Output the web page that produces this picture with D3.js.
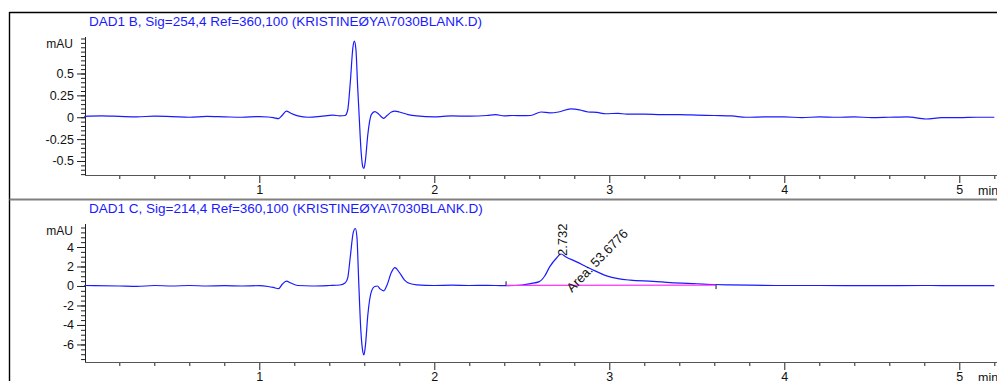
<!DOCTYPE html>
<html><head><meta charset="utf-8">
<script src="https://cdn.jsdelivr.net/npm/d3@7"></script>
<style>
html,body{margin:0;padding:0;background:#fff;overflow:hidden}
svg{display:block;font-family:"Liberation Sans",Arial,sans-serif}
</style></head>
<body>
<svg id="c" width="997" height="381"></svg>
<script>
// ---- data ----
const titleB = "DAD1 B, Sig=254,4 Ref=360,100 (KRISTINEØYA\\7030BLANK.D)";
const titleC = "DAD1 C, Sig=214,4 Ref=360,100 (KRISTINEØYA\\7030BLANK.D)";
const unitLabel = "mAU";
const xUnit = "min";
const xMajorTicks = [1, 2, 3, 4, 5];
const yMajorTicksB = [0.5, 0.25, 0, -0.25, -0.5];
const yMajorTicksC = [4, 2, 0, -2, -4, -6];

const timeB = [0.00,0.10,0.20,0.30,0.40,0.50,0.60,0.70,0.80,0.90,1.00,1.05,1.08,1.11,1.13,1.155,1.18,1.22,1.28,1.35,1.42,1.46,1.49,1.505,1.52,1.535,1.543,1.552,1.562,1.571,1.582,1.592,1.598,1.606,1.62,1.64,1.66,1.68,1.70,1.711,1.73,1.755,1.775,1.80,1.85,1.90,2.00,2.05,2.10,2.20,2.30,2.35,2.40,2.45,2.50,2.55,2.61,2.66,2.71,2.78,2.83,2.88,2.93,2.98,3.05,3.10,3.20,3.30,3.40,3.50,3.60,3.70,3.78,3.90,4.00,4.10,4.20,4.30,4.40,4.50,4.60,4.70,4.81,4.90,5.00,5.10,5.20];
const sigB  = [0.010,0.015,0.010,0.005,0.012,0.008,0.000,0.010,0.005,0.000,0.008,0.003,-0.005,-0.015,0.020,0.070,0.045,0.015,0.000,0.010,0.025,0.015,0.020,0.080,0.400,0.800,0.870,0.780,0.350,0.000,-0.400,-0.570,-0.585,-0.500,-0.200,0.030,0.064,0.040,0.000,-0.012,0.020,0.060,0.070,0.060,0.030,0.015,0.005,0.010,0.015,0.012,0.020,0.030,0.015,0.020,0.018,0.020,0.060,0.050,0.060,0.095,0.085,0.060,0.055,0.040,0.045,0.035,0.035,0.030,0.030,0.025,0.020,0.015,0.000,0.005,0.005,-0.005,0.005,0.000,0.005,-0.005,0.000,0.005,-0.020,-0.005,-0.005,0.000,0.000];

const timeC = [0.00,0.20,0.30,0.40,0.50,0.60,0.70,0.80,0.90,1.00,1.05,1.08,1.11,1.13,1.155,1.18,1.22,1.30,1.40,1.46,1.49,1.505,1.52,1.537,1.549,1.558,1.568,1.58,1.592,1.598,1.607,1.62,1.64,1.66,1.675,1.69,1.711,1.73,1.755,1.775,1.80,1.83,1.86,1.90,2.00,2.10,2.20,2.30,2.40,2.50,2.55,2.60,2.63,2.66,2.70,2.724,2.75,2.81,2.89,2.985,3.05,3.12,3.25,3.35,3.50,3.60,3.67,3.80,4.00,4.20,4.50,4.80,5.00,5.20];
const sigC  = [0.05,0.00,-0.05,0.05,0.00,0.05,0.00,0.03,0.00,0.03,-0.05,-0.15,-0.28,0.15,0.50,0.30,0.05,0.00,0.05,0.10,0.30,0.80,3.00,5.50,5.90,5.00,0.50,-4.50,-6.80,-7.08,-6.00,-3.00,-0.60,-0.05,0.00,-0.30,-0.50,0.10,1.40,1.88,1.40,0.60,0.25,0.12,0.05,0.08,0.05,0.07,0.03,0.10,0.25,0.45,1.00,1.98,2.90,3.28,3.00,2.50,1.80,1.03,0.75,0.60,0.48,0.34,0.23,0.15,0.12,0.08,0.05,0.05,0.03,0.05,0.03,0.03];

const peakTime = 2.724, peakValue = 3.28, peakLabel = "2.732";
const areaLabel = "Area: 53.6776";
const baselineStart = [2.41, 0.07], baselineEnd = [3.61, 0.09];

// ---- drawing ----
const svg = d3.select("#c");
const blue = "#1a1aff";
const x = d3.scaleLinear().domain([0, 5.2]).range([84.3, 994.3]);

// frame
svg.append("line").attr("x1",9.5).attr("x2",997).attr("y1",12.5).attr("y2",12.5).attr("stroke","#000").attr("stroke-width",1.6);
svg.append("line").attr("x1",9.5).attr("x2",9.5).attr("y1",12).attr("y2",381).attr("stroke","#000").attr("stroke-width",1.4);
svg.append("line").attr("x1",9.5).attr("x2",997).attr("y1",199.5).attr("y2",199.5).attr("stroke","#808080").attr("stroke-width",2);

function panel(off, title, yDom, majors, minorStep, times, vals, fmt) {
  const yTop = 37 + off, yBot = 175 + off;
  const y = d3.scaleLinear().domain(yDom).range([yBot, yTop]);
  const g = svg.append("g");
  g.append("text").attr("x", 89).attr("y", 26 + off).attr("fill", blue)
    .attr("font-size", 13.5).text(title);
  // y minor ticks
  const minors = d3.range(Math.ceil(yDom[0]/minorStep), Math.floor(yDom[1]/minorStep)+1)
      .map(i => +(i*minorStep).toFixed(4));
  const ymin = g.append("g").attr("transform", `translate(85,0)`)
    .call(d3.axisLeft(y).tickValues(minors).tickSize(4).tickFormat(""));
  ymin.select(".domain").remove();
  const ymaj = g.append("g").attr("transform", `translate(85,0)`)
    .call(d3.axisLeft(y).tickValues(majors).tickSize(8).tickPadding(3).tickFormat(fmt));
  ymaj.select(".domain").remove();
  [ymin, ymaj].forEach(a => a.selectAll("line").attr("stroke", "#222"));
  ymaj.selectAll("text").attr("font-size", 12.5).attr("fill", "#111")
    .attr("font-family", '"Liberation Sans",Arial,sans-serif');
  g.append("text").attr("x", 73).attr("y", yTop + 11).attr("text-anchor", "end")
    .attr("font-size", 12).attr("fill", "#111").text(unitLabel);
  g.append("line").attr("x1", 85.5).attr("x2", 85.5).attr("y1", yTop).attr("y2", yBot+0.5)
    .attr("stroke", "#222");
  // x axis
  const xmin = g.append("g").attr("transform", `translate(0,${yBot})`)
    .call(d3.axisBottom(x).tickValues(d3.range(1, 27).map(i => +(i*0.2).toFixed(2)).filter(v => Math.abs(v - Math.round(v)) > 1e-6)).tickSize(4).tickFormat(""));
  xmin.select(".domain").remove();
  const xmaj = g.append("g").attr("transform", `translate(0,${yBot})`)
    .call(d3.axisBottom(x).tickValues(xMajorTicks).tickSize(8).tickPadding(2).tickFormat(d3.format("d")));
  xmaj.select(".domain").remove();
  [xmin, xmaj].forEach(a => a.selectAll("line").attr("stroke", "#222"));
  xmaj.selectAll("text").attr("font-size", 12.5).attr("fill", "#111")
    .attr("font-family", '"Liberation Sans",Arial,sans-serif');
  g.append("line").attr("x1", 85).attr("x2", 997).attr("y1", yBot + 0.5).attr("y2", yBot + 0.5)
    .attr("stroke", "#555").attr("stroke-width", 1.2);
  g.append("text").attr("x", 978).attr("y", yBot + 20).attr("font-size", 12.5).attr("fill", "#111").text(xUnit);
  // trace
  const data = times.map((t, i) => [t, vals[i]]);
  g.append("path").datum(data).attr("fill", "none").attr("stroke", blue).attr("stroke-width", 1.2)
    .attr("d", d3.line().x(d => x(d[0])).y(d => y(d[1])).curve(d3.curveMonotoneX));
  return y;
}

const fmtPlain = d => String(d);
panel(0, titleB, [-0.66, 0.917], yMajorTicksB, 0.05, timeB, sigB, fmtPlain);
const yC = panel(187, titleC, [-7.8, 6.36], yMajorTicksC, 0.5, timeC, sigC, fmtPlain);

// integration baseline + markers
svg.append("line").attr("x1", x(baselineStart[0])).attr("y1", yC(baselineStart[1]))
  .attr("x2", x(baselineEnd[0])).attr("y2", yC(baselineEnd[1]))
  .attr("stroke", "#ff33ff").attr("stroke-width", 1.3);
svg.append("line").attr("x1", x(baselineStart[0])).attr("x2", x(baselineStart[0]))
  .attr("y1", yC(baselineStart[1])).attr("y2", yC(baselineStart[1]) - 4).attr("stroke", "#111");
svg.append("line").attr("x1", x(baselineEnd[0])).attr("x2", x(baselineEnd[0]))
  .attr("y1", yC(baselineEnd[1])).attr("y2", yC(baselineEnd[1]) + 4).attr("stroke", "#111");

// peak annotations
const px = x(peakTime), py = yC(peakValue);
svg.append("text").attr("transform", `translate(${px + 6},${py + 2}) rotate(-90)`)
  .attr("font-size", 13).attr("fill", "#111").text(peakLabel);
svg.append("text").attr("transform", `translate(${px + 11},${py + 39}) rotate(-46)`)
  .attr("font-size", 13).attr("fill", "#111").text(areaLabel);
</script>
</body></html>
